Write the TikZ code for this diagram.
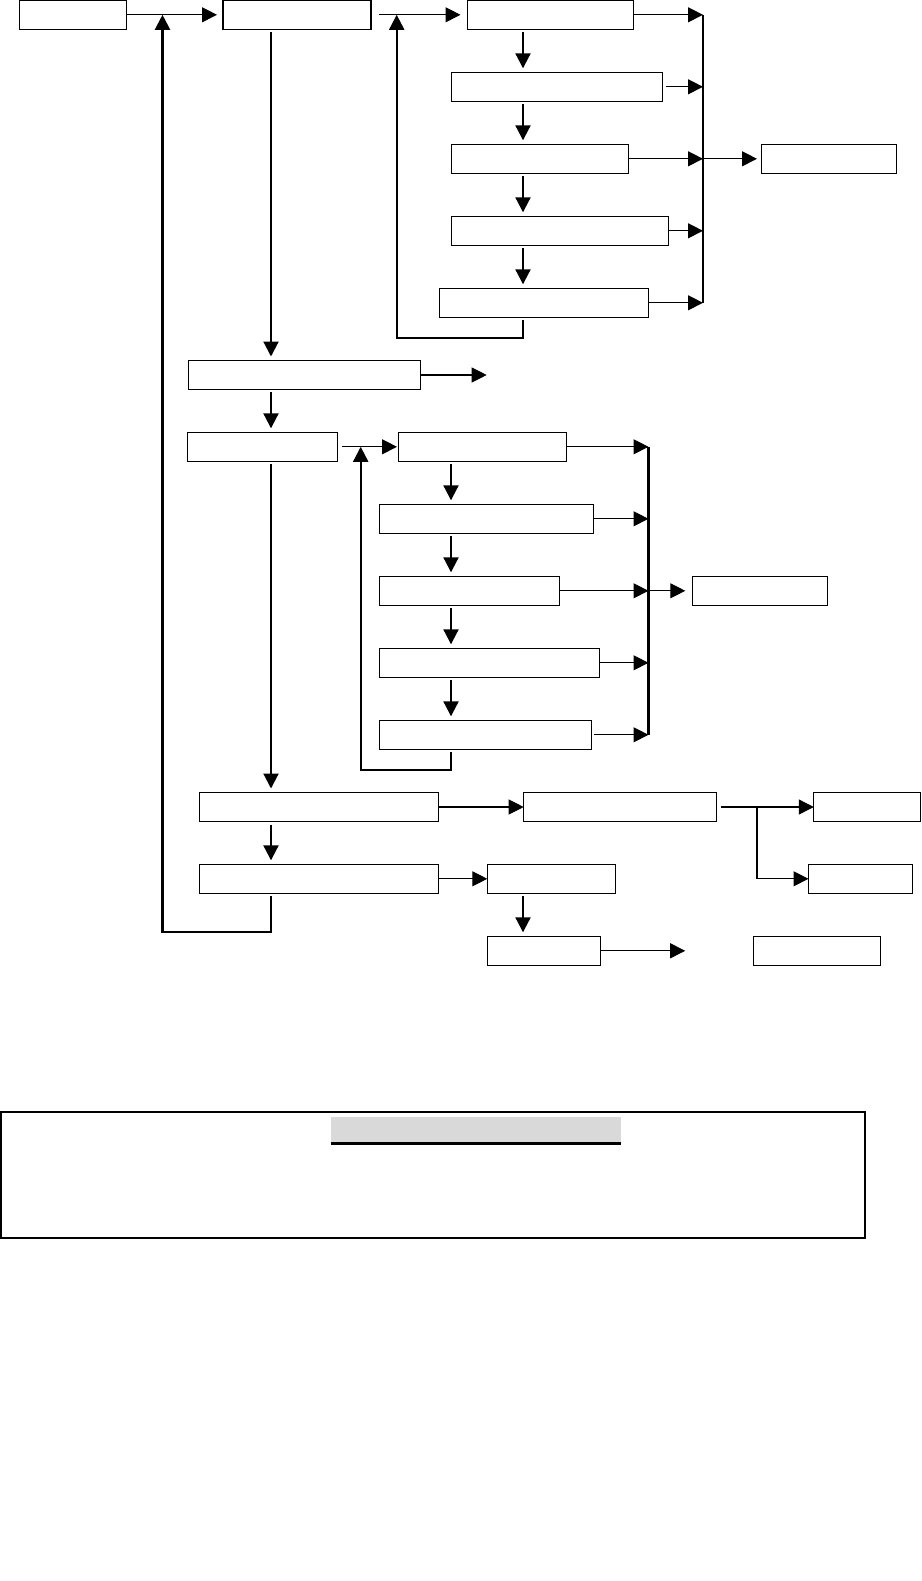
\documentclass[tikz,border=0pt]{standalone}
\usetikzlibrary{arrows.meta}
\definecolor{barfill}{HTML}{D9D9D9}
\begin{document}
\begin{tikzpicture}[
    x=0.02cm, y=-0.02cm,
    blk/.style={draw, line width=0.6pt, inner sep=0pt, outer sep=0pt,
        minimum height=0.58cm, minimum width=#1*0.02cm},
    link/.style={line width=0.6pt, -{Triangle[length=0.3cm,width=0.3cm]}},
    trunk/.style={line width=1.2pt},
    drop/.style={trunk, -{Triangle[length=0.3cm,width=0.3cm]},
        shorten <=0.06cm, shorten >=0.08cm},
    back/.style={trunk, -{Triangle[length=0.3cm,width=0.3cm]}, shorten <=0.06cm}
]
    \useasboundingbox (0,0) rectangle (922,1581);

    % Boxes of the chart (pixel grid, y going down)
    \node[blk=107] (A) at (73,14.8) {};
    \node[blk=148] (B) at (297,14.8) {};
    \node[blk=166] (C) at (550.5,14.8) {};
    \node[blk=211] (D) at (557,86.8) {};
    \node[blk=177] (E) at (540,158.8) {};
    \node[blk=135] (F) at (829,158.8) {};
    \node[blk=217] (G) at (560,230.8) {};
    \node[blk=209] (H) at (544,302.8) {};
    \node[blk=232] (I) at (304.5,375) {};
    \node[blk=150] (J) at (262.5,446.8) {};
    \node[blk=168] (K) at (482.5,446.8) {};
    \node[blk=214] (L) at (486.5,518.8) {};
    \node[blk=180] (M) at (469.5,590.8) {};
    \node[blk=135] (N) at (759.8,590.8) {};
    \node[blk=220] (O) at (489.5,662.8) {};
    \node[blk=212] (P) at (485.5,734.8) {};
    \node[blk=239] (Q) at (319.1,807) {};
    \node[blk=193] (R) at (620.2,807) {};
    \node[blk=107] (S) at (867.3,807) {};
    \node[blk=104] (T) at (860.5,878.8) {};
    \node[blk=239] (U) at (319.1,878.8) {};
    \node[blk=128] (V) at (551.3,878.8) {};
    \node[blk=113] (W) at (543.9,950.8) {};
    \node[blk=127] (X) at (817.2,950.8) {};

    % Columns, buses and loose ends
    \coordinate (colB) at (271,0);
    \coordinate (colC) at (523,0);
    \coordinate (colK) at (451,0);
    \coordinate (bus1) at (703,0);
    \coordinate (bus2) at (648.5,0);
    \coordinate (ret1) at (162.5,14.8);
    \coordinate (ret2) at (396.7,14.8);
    \coordinate (ret3) at (360.7,446.8);
    \coordinate (fork) at (757,807);
    \coordinate (out1) at (486.7,375);
    \coordinate (out2) at (685.2,950.8);

    % Top row
    \draw[link, shorten >=0.12cm] (A) -- (B);
    \draw[link, shorten <=0.16cm, shorten >=0.14cm] (B) -- (C);

    % Main trunk below B
    \draw[drop] (B.south -| colB) -- (I.north -| colB);
    \draw[drop] (I.south -| colB) -- (J.north -| colB);
    \draw[drop] (J.south -| colB) -- (Q.north -| colB);
    \draw[drop] (Q.south -| colB) -- (U.north -| colB);
    \draw[back] (U.south -| colB) -- ++(0,39) -| (ret1);

    % First loop
    \draw[drop] (C.south -| colC) -- (D.north -| colC);
    \draw[drop] (D.south -| colC) -- (E.north -| colC);
    \draw[drop] (E.south -| colC) -- (G.north -| colC);
    \draw[drop] (G.south -| colC) -- (H.north -| colC);
    \draw[back] (H.south -| colC) -- ++(0,21) -| (ret2);

    \draw[trunk] (C -| bus1) -- (H -| bus1);
    \draw[link] (C) -- (C -| bus1);
    \draw[link, shorten <=0.07cm] (D) -- (D -| bus1);
    \draw[link] (E) -- (E -| bus1);
    \draw[link] (G) -- (G -| bus1);
    \draw[link] (H) -- (H -| bus1);
    \draw[link, shorten >=0.09cm] (E -| bus1) -- (F);

    \draw[link] (I) -- (out1);

    % Second loop
    \draw[link, shorten <=0.09cm, shorten >=0.03cm] (J) -- (K);
    \draw[drop] (K.south -| colK) -- (L.north -| colK);
    \draw[drop] (L.south -| colK) -- (M.north -| colK);
    \draw[drop] (M.south -| colK) -- (O.north -| colK);
    \draw[drop] (O.south -| colK) -- (P.north -| colK);
    \draw[back] (P.south -| colK) -- ++(0,21) -| (ret3);

    \draw[trunk] (K -| bus2) -- (P -| bus2);
    \draw[link] (K) -- (K -| bus2);
    \draw[link] (L) -- (L -| bus2);
    \draw[link] (M) -- (M -| bus2);
    \draw[link] (O) -- (O -| bus2);
    \draw[link, shorten <=0.05cm] (P) -- (P -| bus2);
    \draw[link, shorten >=0.14cm] (M -| bus2) -- (N);

    % Bottom part
    \draw[link] (Q) -- (R);
    \draw[line width=0.6pt, shorten <=0.08cm] (R) -- (fork);
    \draw[link] (fork) -- (S);
    \draw[link] (fork) |- (T);
    \draw[link] (U) -- (V);
    \draw[drop] (V.south -| colC) -- (W.north -| colC);
    \draw[link] (W) -- (out2);

    % Frame below the chart
    \draw[line width=1.1pt] (1.2,1112.3) rectangle (865,1238.3);
    \fill[barfill] (331,1117) rectangle (621,1142.3);
    \fill (331,1142.3) rectangle (621,1145);

\end{tikzpicture}
\end{document}
